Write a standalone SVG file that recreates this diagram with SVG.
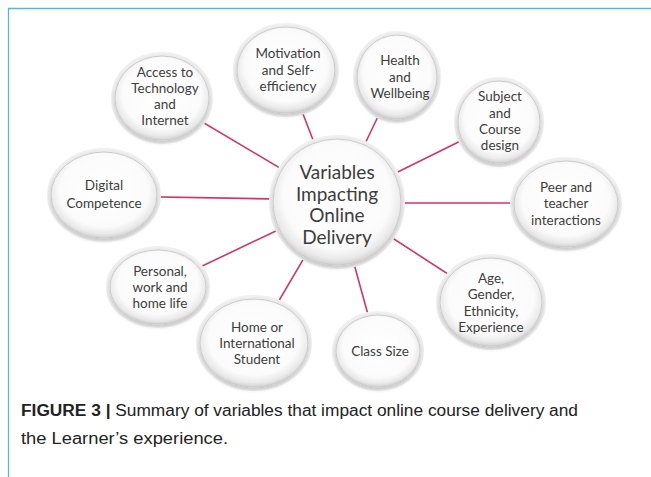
<svg xmlns="http://www.w3.org/2000/svg" width="651" height="477" viewBox="0 0 651 477">
  <defs>
    <radialGradient id="bubble" cx="50%" cy="45%" r="55%">
      <stop offset="0" stop-color="#ffffff"/>
      <stop offset="0.76" stop-color="#fbfbfb"/>
      <stop offset="0.91" stop-color="#eaeaea"/>
      <stop offset="1" stop-color="#d2d2d2"/>
    </radialGradient>
    <filter id="soft" x="-20%" y="-20%" width="140%" height="140%">
      <feGaussianBlur in="SourceAlpha" stdDeviation="2"/>
      <feOffset dx="0" dy="1.5"/>
      <feComponentTransfer><feFuncA type="linear" slope="0.22"/></feComponentTransfer>
      <feMerge><feMergeNode/><feMergeNode in="SourceGraphic"/></feMerge>
    </filter>
  </defs>
  <style>
    .frame { stroke: #56b4e6; stroke-width: 1.3; fill: none; }
    .link { stroke: #d2336a; stroke-width: 1.6; fill: none; }
    .halo { fill: none; stroke: #f0f0f0; stroke-width: 4; }
    .disc { fill: url(#bubble); stroke: #cbcbcb; stroke-width: 1; filter: url(#soft); }
    .lbl { font-family: Lato, "Open Sans", "DejaVu Sans", sans-serif; font-size: 13.5px; fill: #3d3d3d; text-anchor: middle; }
    .hub { font-family: Lato, "Open Sans", "DejaVu Sans", sans-serif; font-size: 19px; fill: #3d3d3d; text-anchor: middle; }
    .cap { font-family: "Liberation Sans", Arial, sans-serif; font-size: 16px; fill: #222; }
  </style>

  <rect width="651" height="477" fill="#ffffff"/>
  <path class="frame" d="M8.5 477 V8.5 H651"/>

  <!-- spokes from the hub to every outer bubble -->
  <g id="connectors">
    <line class="link" x1="337" y1="202" x2="162" y2="98"/>
    <line class="link" x1="337" y1="202" x2="286" y2="70"/>
    <line class="link" x1="337" y1="202" x2="397" y2="77"/>
    <line class="link" x1="337" y1="202" x2="499" y2="122"/>
    <line class="link" x1="337" y1="203" x2="566" y2="203"/>
    <line class="link" x1="337" y1="202" x2="491" y2="302"/>
    <line class="link" x1="337" y1="202" x2="378" y2="351"/>
    <line class="link" x1="337" y1="202" x2="254" y2="343"/>
    <line class="link" x1="337" y1="202" x2="158" y2="287"/>
    <line class="link" x1="337" y1="200" x2="104" y2="196"/>
  </g>

  <g id="hub">
    <ellipse class="halo" cx="337" cy="202" rx="66" ry="65"/>
    <ellipse class="disc" cx="337" cy="202" rx="64" ry="63"/>
    <text class="hub" x="337" y="179">Variables</text>
    <text class="hub" x="337" y="201">Impacting</text>
    <text class="hub" x="337" y="222">Online</text>
    <text class="hub" x="337" y="244">Delivery</text>
  </g>

  <g id="access">
    <ellipse class="halo" cx="162" cy="98" rx="49" ry="44"/>
    <ellipse class="disc" cx="162" cy="98" rx="47" ry="42"/>
    <text class="lbl" x="165" y="77">Access to</text>
    <text class="lbl" x="165" y="93">Technology</text>
    <text class="lbl" x="165" y="109">and</text>
    <text class="lbl" x="165" y="125">Internet</text>
  </g>

  <g id="motivation">
    <ellipse class="halo" cx="286" cy="70" rx="51" ry="45"/>
    <ellipse class="disc" cx="286" cy="70" rx="49" ry="43"/>
    <text class="lbl" x="288" y="58">Motivation</text>
    <text class="lbl" x="288" y="75">and Self-</text>
    <text class="lbl" x="288" y="91">efficiency</text>
  </g>

  <g id="health">
    <ellipse class="halo" cx="397" cy="77" rx="42" ry="44"/>
    <ellipse class="disc" cx="397" cy="77" rx="40" ry="42"/>
    <text class="lbl" x="400" y="65">Health</text>
    <text class="lbl" x="400" y="82">and</text>
    <text class="lbl" x="400" y="98">Wellbeing</text>
  </g>

  <g id="subject">
    <ellipse class="halo" cx="499" cy="122" rx="43" ry="43"/>
    <ellipse class="disc" cx="499" cy="122" rx="41" ry="41"/>
    <text class="lbl" x="500" y="101">Subject</text>
    <text class="lbl" x="500" y="118">and</text>
    <text class="lbl" x="500" y="134">Course</text>
    <text class="lbl" x="500" y="150">design</text>
  </g>

  <g id="peer">
    <ellipse class="halo" cx="566" cy="204" rx="54" ry="45"/>
    <ellipse class="disc" cx="566" cy="204" rx="52" ry="43"/>
    <text class="lbl" x="566" y="192">Peer and</text>
    <text class="lbl" x="566" y="208">teacher</text>
    <text class="lbl" x="566" y="225">interactions</text>
  </g>

  <g id="age">
    <ellipse class="halo" cx="491" cy="302" rx="53" ry="46"/>
    <ellipse class="disc" cx="491" cy="302" rx="51" ry="44"/>
    <text class="lbl" x="491" y="283">Age,</text>
    <text class="lbl" x="491" y="299">Gender,</text>
    <text class="lbl" x="491" y="316">Ethnicity,</text>
    <text class="lbl" x="491" y="332">Experience</text>
  </g>

  <g id="class-size">
    <ellipse class="halo" cx="378" cy="351" rx="44" ry="38"/>
    <ellipse class="disc" cx="378" cy="351" rx="42" ry="36"/>
    <text class="lbl" x="380" y="356">Class Size</text>
  </g>

  <g id="home">
    <ellipse class="halo" cx="254" cy="343" rx="56" ry="46"/>
    <ellipse class="disc" cx="254" cy="343" rx="54" ry="44"/>
    <text class="lbl" x="257" y="332">Home or</text>
    <text class="lbl" x="257" y="348">International</text>
    <text class="lbl" x="257" y="364">Student</text>
  </g>

  <g id="personal">
    <ellipse class="halo" cx="158" cy="287" rx="50" ry="39"/>
    <ellipse class="disc" cx="158" cy="287" rx="48" ry="37"/>
    <text class="lbl" x="160" y="276">Personal,</text>
    <text class="lbl" x="160" y="292">work and</text>
    <text class="lbl" x="160" y="308">home life</text>
  </g>

  <g id="digital">
    <ellipse class="halo" cx="104" cy="195" rx="55" ry="45"/>
    <ellipse class="disc" cx="104" cy="195" rx="53" ry="43"/>
    <text class="lbl" x="104" y="190">Digital</text>
    <text class="lbl" x="104" y="208">Competence</text>
  </g>

  <g id="caption">
    <text class="cap" x="21" y="416" textLength="557" lengthAdjust="spacingAndGlyphs"><tspan font-weight="bold">FIGURE 3 |</tspan> Summary of variables that impact online course delivery and</text>
    <text class="cap" x="21" y="444" textLength="207" lengthAdjust="spacingAndGlyphs">the Learner’s experience.</text>
  </g>
</svg>
